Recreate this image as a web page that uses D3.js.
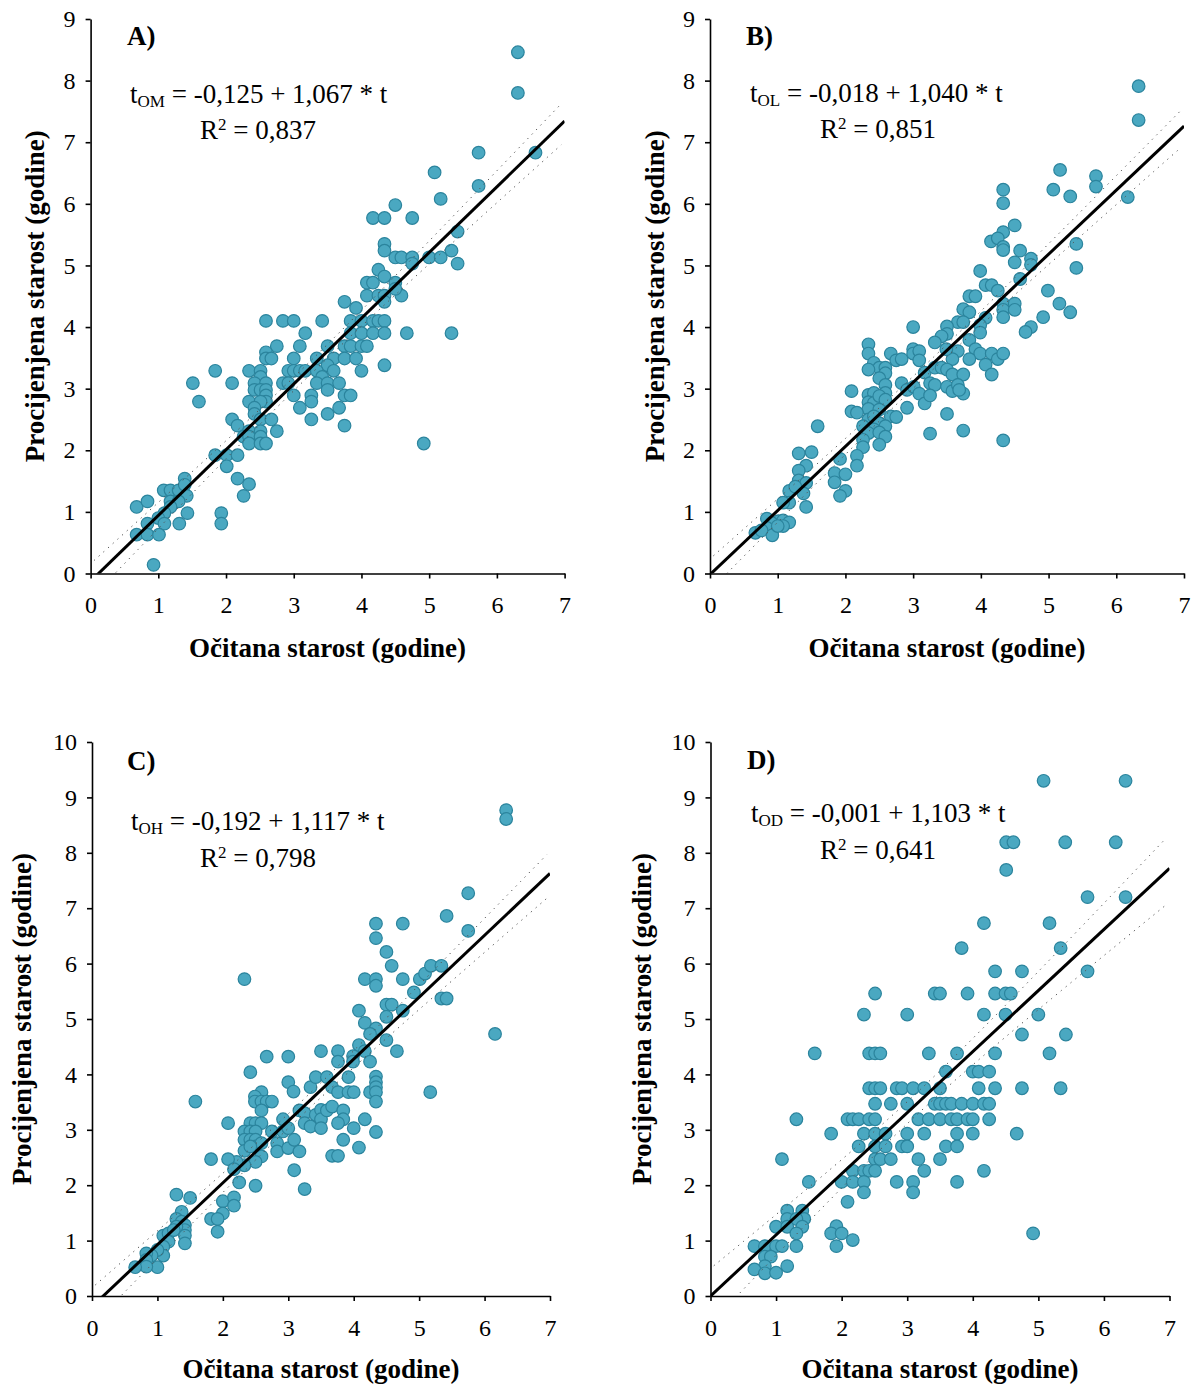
<!DOCTYPE html>
<html><head><meta charset="utf-8">
<script src="https://cdn.jsdelivr.net/npm/d3@7"></script>
<style>body{margin:0;background:#fff}svg{display:block}</style>
</head><body>
<svg id="chart" width="1196" height="1389"></svg>
<script>
// ---------------- DATA ----------------
const panelLetters = ["A)", "B)", "C)", "D)"];
const eqSubscripts = ["OM", "OL", "OH", "OD"];
const intercepts = [-0.125, -0.018, -0.192, -0.001];
const slopes = [1.067, 1.040, 1.117, 1.103];
const r2Values = [0.837, 0.851, 0.798, 0.641];
const xTickValues = [0, 1, 2, 3, 4, 5, 6, 7];
const yTickValuesTop = [0, 1, 2, 3, 4, 5, 6, 7, 8, 9];
const yTickValuesBottom = [0, 1, 2, 3, 4, 5, 6, 7, 8, 9, 10];
const xTitle = "Očitana starost (godine)";
const yTitle = "Procijenjena starost (godine)";

// [očitana starost, procijenjena starost]
const pointsA = [
[6.31,8.46],[6.31,7.80],[5.73,6.83],[6.57,6.83],[5.73,6.29],
[5.08,6.51],[5.17,6.08],[4.50,5.98],[4.17,5.77],[4.34,5.77],[4.75,5.77],
[4.34,5.35],[4.34,5.24],[5.42,5.55],[5.33,5.24],[5.42,5.03],
[4.50,5.13],[4.59,5.13],[4.75,5.13],[5.00,5.13],[5.17,5.13],[4.75,5.03],
[4.25,4.93],[4.34,4.82],[4.08,4.72],[4.17,4.72],[4.50,4.72],
[4.08,4.51],[4.25,4.51],[4.34,4.51],[4.59,4.51],[4.50,4.62],[4.34,4.41],[3.75,4.41],[3.92,4.31],
[3.84,4.10],[4.00,4.10],[4.17,4.10],[4.25,4.10],[4.34,4.10],
[2.59,4.10],[2.84,4.10],[3.00,4.10],[3.42,4.10],
[3.84,3.90],[4.00,3.90],[4.17,3.90],[4.34,3.90],[4.67,3.90],[5.33,3.90],[3.17,3.90],
[2.75,3.69],[3.09,3.69],[3.50,3.69],[3.75,3.69],[3.84,3.69],[4.00,3.69],[4.08,3.69],
[2.59,3.59],[2.59,3.49],[2.67,3.49],[3.00,3.49],[3.34,3.49],[3.59,3.49],[3.75,3.49],[3.92,3.49],
[3.50,3.38],[4.34,3.38],
[1.84,3.29],[2.34,3.29],[2.51,3.29],[2.92,3.29],[3.00,3.29],[3.09,3.29],[3.17,3.29],[3.34,3.29],[3.59,3.29],[4.00,3.29],
[2.51,3.19],[3.42,3.19],
[1.51,3.09],[2.09,3.09],[2.42,3.09],[2.59,3.09],[2.84,3.09],[2.92,3.09],[3.34,3.09],[3.50,3.09],[3.67,3.09],
[2.42,2.98],[2.51,2.98],[2.59,2.98],[3.50,2.98],
[2.59,2.89],[2.59,2.79],[3.00,2.89],[3.26,2.89],[3.75,2.89],[3.84,2.89],
[1.60,2.79],[2.34,2.79],[2.51,2.79],[3.26,2.79],
[2.42,2.69],[3.09,2.69],[3.67,2.69],[2.42,2.59],[3.50,2.59],
[3.26,2.50],[2.09,2.50],[2.51,2.50],[2.67,2.50],
[3.75,2.40],[2.17,2.40],
[2.34,2.31],[2.51,2.31],[2.75,2.31],
[2.26,2.22],[2.34,2.22],[2.51,2.22],
[2.34,2.11],[2.51,2.11],[2.59,2.11],[4.92,2.11],
[1.84,1.92],[2.01,1.92],[2.17,1.92],[2.01,1.74],[2.17,1.54],[2.34,1.45],[2.26,1.26],
[1.39,1.54],[1.08,1.35],[1.18,1.35],[1.30,1.35],[1.39,1.44],[1.42,1.26],
[1.18,1.17],[1.30,1.17],[1.43,0.98],[1.18,1.08],[0.68,1.08],[0.84,1.17],[1.09,0.98],
[1.00,0.90],[1.09,0.81],[0.84,0.81],[1.31,0.81],[1.93,0.98],[1.93,0.81],
[0.68,0.63],[0.84,0.63],[1.01,0.63],[0.93,0.14]
];

const pointsB = [
[6.33,7.91],[6.33,7.36],[5.70,6.45],[5.70,6.28],[6.17,6.11],
[5.17,6.55],[5.07,6.23],[5.32,6.12],
[4.33,6.23],[4.33,6.01],[4.50,5.65],[4.33,5.54],[4.15,5.39],[4.25,5.44],[4.33,5.30],[4.33,5.25],[4.58,5.24],
[5.41,5.35],[5.41,4.96],[4.74,5.11],[4.74,5.01],[4.50,5.05],[4.58,4.78],[3.99,4.91],
[4.07,4.68],[4.16,4.68],[4.25,4.59],[3.83,4.50],[3.92,4.50],[4.99,4.59],
[4.33,4.38],[4.50,4.38],[4.33,4.28],[4.50,4.28],[4.33,4.16],[5.16,4.38],[5.32,4.24],[4.92,4.16],[4.74,4.00],[4.66,3.92],
[3.74,4.29],[3.83,4.24],[3.66,4.08],[3.74,4.08],[4.07,4.15],[3.99,4.03],[3.99,3.91],
[3.50,4.01],[3.50,3.89],[3.42,3.85],[3.32,3.75],[3.00,4.00],[3.83,3.79],
[3.92,3.64],[3.99,3.57],[4.16,3.57],[4.25,3.48],[4.33,3.57],[4.07,3.39],[4.16,3.23],
[3.83,3.48],[3.66,3.61],[3.58,3.48],[3.49,3.64],
[2.34,3.72],[2.34,3.57],[2.67,3.57],[2.75,3.46],[2.83,3.48],[3.00,3.64],[3.00,3.57],[3.09,3.61],[3.09,3.46],
[2.42,3.42],[2.50,3.34],[2.59,3.34],[2.59,3.25],[2.34,3.31],[2.50,3.17],
[3.17,3.26],[3.32,3.34],[3.42,3.34],[3.50,3.31],[3.58,3.23],[3.74,3.23],
[2.83,3.09],[2.91,2.98],[3.01,3.03],[2.59,3.06],[2.59,2.93],[3.25,3.09],[3.32,3.06],
[3.50,3.03],[3.58,2.96],[3.66,3.06],[3.74,2.92],[3.68,2.98],
[3.09,2.92],[3.17,2.76],[3.25,2.89],
[2.09,2.96],[2.34,2.90],[2.42,2.93],[2.34,2.78],[2.42,2.77],[2.50,2.88],[2.59,2.82],
[2.34,2.67],[2.50,2.66],[2.91,2.69],[2.09,2.63],[2.17,2.61],[2.67,2.55],[2.75,2.54],
[2.34,2.50],[2.42,2.55],[2.50,2.44],[2.59,2.39],[2.42,2.34],[3.50,2.59],
[2.26,2.39],[2.34,2.28],[2.26,2.17],[2.50,2.29],[2.59,2.22],[2.50,2.09],[2.26,2.05],
[3.25,2.27],[3.74,2.32],[4.33,2.16],
[1.59,2.39],[1.31,1.95],[1.50,1.97],[1.92,1.86],[2.17,1.91],[2.17,1.75],[1.42,1.75],[1.31,1.67],
[1.84,1.63],[2.00,1.61],[1.84,1.48],[2.00,1.34],[1.92,1.26],
[1.31,1.51],[1.42,1.47],[1.38,1.30],[1.17,1.34],[1.26,1.41],[1.17,1.15],[1.42,1.08],
[1.08,1.15],[1.01,0.85],[0.84,0.89],[0.91,0.82],[1.08,0.86],[1.17,0.83],[1.08,0.77],
[0.84,0.74],[0.67,0.66],[0.92,0.62],[1.00,0.77],[0.76,0.70]
];

const pointsC = [
[6.33,8.77],[6.33,8.61],[5.75,7.27],[5.42,6.86],[5.75,6.59],[6.16,4.73],
[4.34,6.72],[4.34,6.46],[4.75,6.72],[4.50,6.21],[4.58,5.96],[2.33,5.72],
[4.17,5.72],[4.34,5.72],[4.34,5.60],[4.75,5.72],[5.01,5.72],[5.09,5.82],[5.18,5.96],[5.34,5.96],
[4.92,5.48],[5.34,5.37],[5.42,5.37],[5.17,3.68],
[4.50,5.26],[4.58,5.26],[4.50,5.04],[4.75,5.15],[4.08,5.15],[4.17,4.93],[4.34,4.83],[4.25,4.73],[4.50,4.62],[4.66,4.42],
[4.08,4.53],[4.17,4.42],[3.99,4.33],[3.99,4.23],[4.25,4.23],
[3.50,4.42],[3.76,4.42],[3.76,4.23],[2.67,4.32],[3.00,4.32],[2.42,4.04],
[3.00,3.86],[3.08,3.69],[3.34,3.77],[3.42,3.95],[3.59,3.95],[3.67,3.77],[3.76,3.68],
[3.92,3.95],[3.92,3.68],[4.00,3.68],
[4.25,3.68],[4.34,3.96],[4.34,3.86],[4.34,3.77],[4.34,3.68],[4.34,3.51],[4.34,2.96],
[2.59,3.68],[2.49,3.60],[2.49,3.51],[2.59,3.51],[2.67,3.51],[2.75,3.51],[2.59,3.35],
[1.58,3.51],[2.08,3.12],[2.42,3.12],[2.50,3.12],[2.59,3.12],
[2.33,2.97],[2.42,2.97],[2.50,2.97],[2.33,2.82],[2.42,2.82],[2.50,2.82],
[2.50,2.70],[2.59,2.76],[2.33,2.62],[2.42,2.70],
[2.59,2.52],[2.50,2.42],[2.33,2.36],[2.21,2.42],
[2.75,2.97],[2.92,3.19],[2.92,2.97],[3.00,3.03],
[3.17,3.35],[3.25,3.30],[3.25,3.12],[3.34,3.06],[3.42,3.27],[3.50,3.36],[3.50,3.19],[3.50,3.03],[3.59,3.35],[3.67,3.42],
[3.84,3.35],[3.84,3.19],[3.76,3.12],[4.00,3.03],[4.17,3.19],
[2.83,2.76],[2.83,2.61],[3.00,2.67],[3.09,2.82],[3.17,2.61],
[3.84,2.82],[4.08,2.68],[3.67,2.53],[3.76,2.53],[3.09,2.27],[3.25,1.93],
[1.82,2.47],[2.08,2.47],[2.17,2.29],[2.25,2.05],[2.50,1.99],
[1.29,1.83],[1.50,1.77],[2.00,1.71],[2.17,1.78],[2.17,1.63],
[2.00,1.49],[1.82,1.39],[1.92,1.39],[1.92,1.16],
[1.37,1.52],[1.29,1.39],[1.37,1.34],[1.42,1.28],[1.42,1.19],[1.42,1.09],[1.42,0.95],
[1.09,1.09],[1.17,1.13],[1.17,0.98],[1.09,0.89],[1.09,0.73],
[1.00,0.83],[0.91,0.73],[0.83,0.77],[0.83,0.65],[1.00,0.52],[0.83,0.53],[0.66,0.52],
[1.29,1.25],[1.25,1.19]
];

const pointsD = [
[5.08,9.30],[6.33,9.30],[4.51,8.19],[4.62,8.19],[5.41,8.19],[6.18,8.19],[4.51,7.69],[5.75,7.20],[6.33,7.20],
[5.75,5.86],[4.17,6.73],[5.17,6.73],[3.83,6.28],[5.34,6.28],[4.34,5.86],[4.75,5.86],
[2.51,5.46],[3.42,5.46],[3.50,5.46],[3.92,5.46],[4.34,5.46],[4.50,5.46],[4.58,5.46],
[2.34,5.08],[3.00,5.08],[4.17,5.08],[4.50,5.08],[5.00,5.08],
[4.75,4.72],[5.42,4.72],
[1.59,4.38],[2.42,4.38],[2.51,4.38],[2.59,4.38],[3.33,4.38],[3.76,4.38],[4.34,4.38],[5.17,4.38],
[3.59,4.05],[4.00,4.05],[4.09,4.05],[4.25,4.05],
[2.42,3.75],[2.51,3.75],[2.59,3.75],[2.84,3.75],[2.92,3.75],[3.09,3.75],[3.26,3.75],[3.50,3.75],
[4.09,3.75],[4.34,3.75],[4.75,3.75],[5.34,3.75],
[2.51,3.47],[2.75,3.47],[3.00,3.47],[3.42,3.47],[3.50,3.47],[3.59,3.47],[3.67,3.47],[3.83,3.47],[4.00,3.47],[4.17,3.47],[4.25,3.47],
[1.31,3.19],[2.09,3.19],[2.17,3.19],[2.26,3.19],[2.42,3.19],[2.51,3.19],
[3.17,3.19],[3.33,3.19],[3.50,3.19],[3.67,3.19],[3.76,3.19],[3.92,3.19],[4.00,3.19],[4.25,3.19],
[1.84,2.93],[2.34,2.93],[2.51,2.93],[2.67,2.93],[3.00,2.93],[3.26,2.93],[3.76,2.93],[4.00,2.93],[4.67,2.93],
[2.26,2.70],[2.51,2.70],[2.67,2.70],[2.92,2.70],[3.00,2.70],[3.59,2.70],[3.76,2.70],
[1.09,2.47],[2.51,2.47],[2.59,2.47],[2.75,2.47],[3.17,2.47],[3.50,2.47],
[2.17,2.26],[2.34,2.26],[2.42,2.26],[2.51,2.26],[3.26,2.26],[4.17,2.26],
[1.50,2.06],[2.00,2.06],[2.17,2.06],[2.34,2.06],[2.84,2.06],[3.09,2.06],[3.76,2.06],
[2.34,1.87],[3.09,1.87],[2.09,1.70],
[1.17,1.54],[1.40,1.54],[1.43,1.39],[1.17,1.39],[1.31,1.39],[1.40,1.25],[1.00,1.25],[1.17,1.25],[1.31,1.13],
[1.92,1.26],[1.84,1.13],[2.00,1.13],[2.17,1.01],[1.92,0.90],[4.92,1.13],
[0.67,0.90],[0.83,0.90],[1.00,0.90],[1.09,0.90],[1.31,0.90],
[0.83,0.71],[0.92,0.71],[0.83,0.54],[1.17,0.54],[0.67,0.48],[0.83,0.41],[1.00,0.42]
];

// ---------------- LAYOUT ----------------
const FONT = "'Liberation Serif','Times New Roman',Times,serif";
const layout = [
  {x0:90.6, x1:564.6, yBot:573.5, yTop:19, yTicks:yTickValuesTop, label:[127,45], eq:[130,103], r2:[200,139], yTitleX:44, xTitleY:657},
  {x0:710, x1:1184, yBot:573.5, yTop:19, yTicks:yTickValuesTop, label:[746,45], eq:[750,102], r2:[820,138], yTitleX:664, xTitleY:657},
  {x0:92, x1:550, yBot:1296, yTop:742, yTicks:yTickValuesBottom, label:[127,770], eq:[131,830], r2:[200,867], yTitleX:31, xTitleY:1378},
  {x0:710.5, x1:1169.5, yBot:1296, yTop:742, yTicks:yTickValuesBottom, label:[747,769], eq:[751,822], r2:[820,859], yTitleX:651, xTitleY:1378}
];
const allPoints = [pointsA, pointsB, pointsC, pointsD];
const fmt = v => v.toFixed(3).replace(".", ",");

const svg = d3.select("#chart");

layout.forEach((L, i) => {
  const pts = allPoints[i];
  const a = intercepts[i], b = slopes[i];
  const yMax = d3.max(L.yTicks);
  const x = d3.scaleLinear().domain([0, 7]).range([L.x0, L.x1]);
  const y = d3.scaleLinear().domain([0, yMax]).range([L.yBot, L.yTop]);
  const g = svg.append("g");

  const clipId = "clip" + i;
  svg.append("clipPath").attr("id", clipId).append("rect")
    .attr("x", L.x0).attr("y", L.yTop).attr("width", L.x1 - L.x0).attr("height", L.yBot - L.yTop);

  // points
  g.append("g").selectAll("circle").data(pts).join("circle")
    .attr("cx", d => x(d[0])).attr("cy", d => y(d[1])).attr("r", 6.3)
    .attr("fill", "#4aa8c1").attr("stroke", "#2b849d").attr("stroke-width", 1.2);

  // confidence band of the regression line, from the points' residuals
  const n = pts.length;
  const xm = d3.mean(pts, d => d[0]);
  const sxx = d3.sum(pts, d => (d[0] - xm) ** 2);
  const s = Math.sqrt(d3.sum(pts, d => (d[1] - (a + b * d[0])) ** 2) / (n - 2));
  const half = t => 1.97 * s * Math.sqrt(1 / n + (t - xm) ** 2 / sxx);
  const grid = d3.range(0.05, 6.96, 0.05);
  [1, -1].forEach(sign => {
    g.append("path")
      .attr("clip-path", `url(#${clipId})`)
      .attr("d", d3.line().x(t => x(t)).y(t => y(a + b * t + sign * half(t)))(grid))
      .attr("fill", "none").attr("stroke", "#555").attr("stroke-width", 1)
      .attr("stroke-dasharray", "1.3,5");
  });

  // regression line
  g.append("path")
    .attr("clip-path", `url(#${clipId})`)
    .attr("d", d3.line().x(t => x(t)).y(t => y(a + b * t))([0, 7]))
    .attr("stroke", "#000").attr("stroke-width", 3).attr("fill", "none");

  // axes
  const xAxis = d3.axisBottom(x).tickValues(xTickValues).tickFormat(d3.format("d"))
    .tickSize(5).tickSizeOuter(0).tickPadding(17.5);
  const yAxis = d3.axisLeft(y).tickValues(L.yTicks).tickFormat(d3.format("d"))
    .tickSize(5).tickSizeOuter(0).tickPadding(10);
  [g.append("g").attr("transform", `translate(0,${L.yBot})`).call(xAxis),
   g.append("g").attr("transform", `translate(${L.x0},0)`).call(yAxis)].forEach(ax => {
    ax.selectAll("path,line").attr("stroke", "#000").attr("stroke-width", 1.6);
    ax.selectAll("text").attr("font-family", FONT).attr("font-size", 24).attr("fill", "#000");
  });

  // axis titles
  g.append("text").attr("x", (L.x0 + L.x1) / 2).attr("y", L.xTitleY)
    .attr("text-anchor", "middle").attr("font-family", FONT).attr("font-weight", "bold")
    .attr("font-size", 27).text(xTitle);
  g.append("text").attr("transform", `translate(${L.yTitleX},${(L.yTop + L.yBot) / 2}) rotate(-90)`)
    .attr("text-anchor", "middle").attr("font-family", FONT).attr("font-weight", "bold")
    .attr("font-size", 27).text(yTitle);

  // panel letter
  g.append("text").attr("x", L.label[0]).attr("y", L.label[1])
    .attr("font-family", FONT).attr("font-weight", "bold").attr("font-size", 27).text(panelLetters[i]);

  // equation
  const eq = g.append("text").attr("x", L.eq[0]).attr("y", L.eq[1])
    .attr("font-family", FONT).attr("font-size", 27);
  eq.append("tspan").text("t");
  eq.append("tspan").attr("font-size", 17).attr("dy", 4).text(eqSubscripts[i]);
  eq.append("tspan").attr("dy", -4).text(` = ${fmt(a)} + ${fmt(b)} * t`);

  const r2 = g.append("text").attr("x", L.r2[0]).attr("y", L.r2[1])
    .attr("font-family", FONT).attr("font-size", 27);
  r2.append("tspan").text("R");
  r2.append("tspan").attr("font-size", 17).attr("dy", -9).text("2");
  r2.append("tspan").attr("dy", 9).text(` = ${fmt(r2Values[i])}`);
});
</script>
</body></html>
